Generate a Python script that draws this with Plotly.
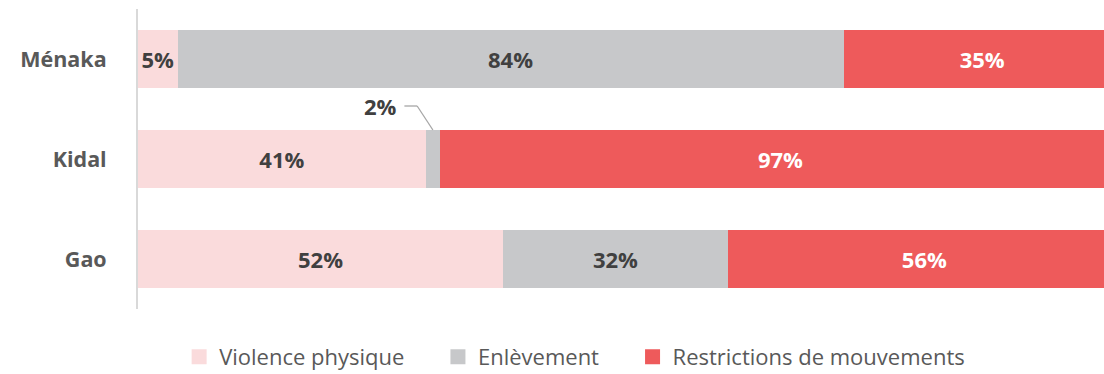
import plotly.graph_objects as go

# Regions (bottom to top on the axis)
regions = ["Gao", "Kidal", "Ménaka"]

# Share of incidents by type, per region (%)
violence = [52, 41, 5]
enlevement = [32, 2, 84]
restrictions = [56, 97, 35]

series = [
    ("Violence physique", violence, "#FADBDC", "#404040"),
    ("Enlèvement", enlevement, "#C7C8CA", "#404040"),
    ("Restrictions de mouvements", restrictions, "#EE5A5B", "#FFFFFF"),
]

FONT = "Open Sans"
VAL_SIZE = 22
NB = "\u00a0"

fig = go.Figure()
for name, vals, color, tcolor in series:
    # the narrow Kidal kidnapping slice is labelled outside with a leader line
    labels = ["" if (name == "Enlèvement" and r == "Kidal") else f"{v}%"
              for r, v in zip(regions, vals)]
    fig.add_trace(go.Bar(
        name=name, y=regions, x=vals, orientation="h",
        marker=dict(color=color, line=dict(width=0)),
        text=labels, textposition="inside", insidetextanchor="middle",
        textangle=0,
        textfont=dict(family=FONT, size=VAL_SIZE, color=tcolor, weight="bold"),
        hoverinfo="skip", showlegend=False,
    ))

# Legend entries with larger square swatches
for i, (name, vals, color, tcolor) in enumerate(series):
    pad = NB * 5 if i < len(series) - 1 else ""
    fig.add_trace(go.Scatter(
        x=[None], y=[None], mode="markers", name=name + pad,
        marker=dict(symbol="square", size=15, color=color),
        hoverinfo="skip",
    ))

# Leader line for the Kidal "Enlèvement" label, placed from the segment position
k = regions.index("Kidal")
tot = violence[k] + enlevement[k] + restrictions[k]
seg_mid = (violence[k] + enlevement[k] / 2) / tot * 100
bar_w = 0.58
lead_y = k + 0.53
line_style = dict(color="#A6A6A6", width=1.3)
fig.add_shape(type="line", xref="x", yref="y",
              x0=seg_mid - 2.9, y0=lead_y, x1=seg_mid - 1.6, y1=lead_y,
              line=line_style, layer="above")
fig.add_shape(type="line", xref="x", yref="y",
              x0=seg_mid - 1.6, y0=lead_y, x1=seg_mid, y1=k + bar_w / 2,
              line=line_style, layer="above")
fig.add_annotation(
    x=seg_mid - 3.5, y=lead_y, text=f"{enlevement[k]}%", showarrow=False,
    xanchor="right", yanchor="middle",
    font=dict(family=FONT, size=VAL_SIZE, color="#404040", weight="bold"),
)

fig.update_layout(
    width=1104, height=374,
    margin=dict(l=138, r=0, t=9, b=65, autoexpand=False),
    paper_bgcolor="white", plot_bgcolor="white",
    barmode="stack", barnorm="percent", bargap=0.42,
    uniformtext=dict(minsize=VAL_SIZE, mode="show"),
    font=dict(family=FONT, color="#595959"),
    xaxis=dict(range=[0, 98.27], visible=False, fixedrange=True),
    yaxis=dict(
        categoryorder="array", categoryarray=regions, range=[-0.5, 2.5],
        showline=True, linecolor="#D9D9D9", linewidth=2,
        showgrid=False, zeroline=False, ticks="", ticklabelstandoff=25,
        tickfont=dict(family=FONT, size=21.5, color="#595959", weight="bold"),
    ),
    legend=dict(
        orientation="h", x=0.452, xanchor="center", y=-0.09, yanchor="top",
        font=dict(family=FONT, size=22, color="#595959"),
        traceorder="normal", itemwidth=30,
    ),
    showlegend=True,
)

fig.write_html("out.html")
